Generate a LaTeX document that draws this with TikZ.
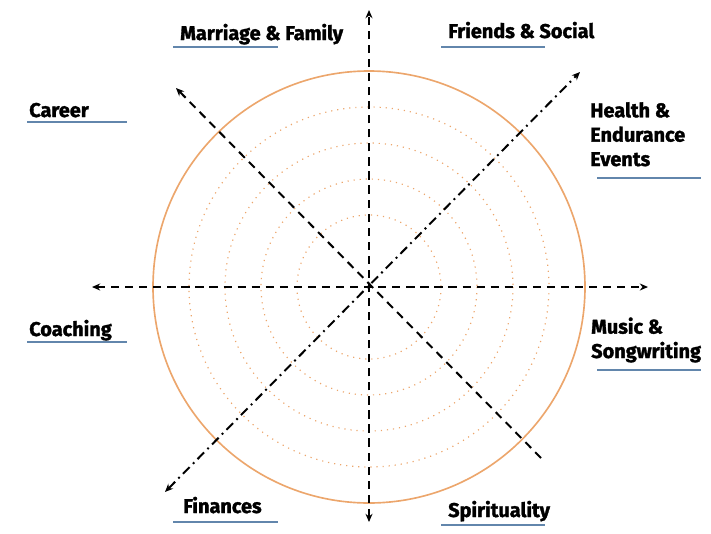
\documentclass[tikz,border=0pt]{standalone}
\usepackage{fontspec}
\newfontfamily\heavyfont{Fira Sans}[BoldFeatures={FakeBold=1.6}]
\usetikzlibrary{positioning, arrows.meta, calc}
\definecolor{ringorange}{RGB}{236,166,108}
\definecolor{lineblue}{RGB}{98,134,172}

\begin{document}
\begin{tikzpicture}[>={Stealth[length=7pt, width=6pt]}, x=0.3mm, y=-0.3mm,
  axis/.style={line width=1.7pt, dash pattern=on 7pt off 5pt},
  dashdot/.style={line width=1.7pt, dash pattern=on 8pt off 4pt on 1.6pt off 4pt},
  area/.style={font=\heavyfont\bfseries\fontsize{17}{20.8}\selectfont, anchor=base west, inner sep=0, align=left}]
  \useasboundingbox (0,0) rectangle (711,534);
  % centre and axis ends
  \coordinate (O) at (369,287);
  \coordinate (N) at (369,10);
  \coordinate (S) at (369,522);
  \coordinate (W) at (92,287);
  \coordinate (E) at (648,287);
  \coordinate (NW) at (176,88);
  \coordinate (SE) at (541,458);
  \coordinate (NE) at (580,72);
  \coordinate (SW) at (165,492);
  % rings
  \foreach \r in {72,108,144,180}{
    \draw[ringorange, line width=1pt, dash pattern=on 1pt off 4.2pt] (O) circle[radius=\r];
  }
  \draw[ringorange, line width=1.4pt] (O) circle[radius=216];
  % axes
  \draw[axis,<->] (S) -- (N);
  \draw[axis,<->] (W) -- (E);
  \draw[axis,->] (SE) -- (NW);
  \draw[dashdot,<->] (SW) -- (NE);
  % labels (base = last line)
  \node[area] (family) at (180,40) {Marriage \& Family};
  \node[area] (friends) at (448,38) {Friends \& Social};
  \node[area] (career) at (29,117) {Career};
  \node[area] (health) at (590,166) {Health \&\\Endurance\\Events};
  \node[area] (coaching) at (29,336) {Coaching};
  \node[area] (music) at (591,358) {Music \&\\Songwriting};
  \node[area] (finances) at (183,513) {Finances};
  \node[area] (spirit) at (448,517) {Spirituality};
  % underlines
  \foreach \xa/\xb/\y in {173/278/47, 441/545/47, 27/127/122, 597/701/178,
                          27/127/342, 597/701/370, 173/278/522, 441/545/525}{
    \draw[lineblue, line width=1.6pt] (\xa,\y) -- (\xb,\y);
  }
\end{tikzpicture}
\end{document}
